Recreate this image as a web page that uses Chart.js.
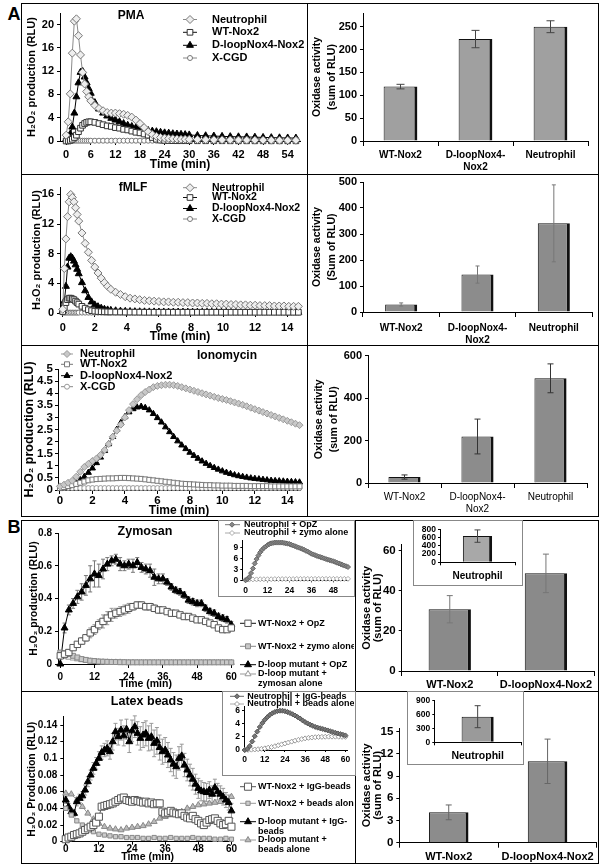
<!DOCTYPE html>
<html><head><meta charset="utf-8">
<script src="https://cdn.jsdelivr.net/npm/chart.js"></script>
<style>
html,body{margin:0;padding:0;background:#fff;}
#root{position:relative;width:602px;height:868px;overflow:hidden;font-family:'Liberation Sans',Arial,'DejaVu Sans',sans-serif;}
.t{position:absolute;font-weight:bold;color:#000;white-space:nowrap;transform:translate(-50%,-50%);line-height:1;z-index:6;}
.bx{position:absolute;border:1px solid #000;box-sizing:border-box;z-index:5;}
.ib{position:absolute;border:1px solid #888;box-sizing:border-box;z-index:5;}
.hl{position:absolute;height:1px;background:#000;z-index:5;}
.vl{position:absolute;width:1px;background:#000;z-index:5;}
canvas{position:absolute;}
</style></head><body><div id="root">
<div class="t" style="left:14px;top:14px;font-size:18px">A</div>
<div class="t" style="left:14px;top:527px;font-size:18px">B</div>
<div class="t" style="left:131px;top:15px;font-size:12px">PMA</div>
<div class="t" style="left:133px;top:187px;font-size:12px">fMLF</div>
<div class="t" style="left:227px;top:355px;font-size:12px">Ionomycin</div>
<div class="t" style="left:145px;top:531px;font-size:12.5px">Zymosan</div>
<div class="t" style="left:147px;top:701px;font-size:12.5px">Latex beads</div>
<div class="bx" style="left:21px;top:3px;width:578px;height:514px"></div>
<div class="hl" style="left:21px;top:174px;width:578px"></div>
<div class="hl" style="left:21px;top:345px;width:578px"></div>
<div class="vl" style="left:307px;top:3px;height:514px"></div>
<div class="bx" style="left:21px;top:520px;width:578px;height:344px"></div>
<div class="vl" style="left:355px;top:520px;height:344px"></div>
<div class="hl" style="left:21px;top:691px;width:578px"></div>
<div class="ib" style="left:218px;top:520px;width:137px;height:77px"></div>
<div class="ib" style="left:413px;top:520px;width:110px;height:66px"></div>
<div class="ib" style="left:222px;top:691px;width:134px;height:85px"></div>
<div class="ib" style="left:407px;top:691px;width:117px;height:74px"></div>
</div>
<script>
// ---------------- DATA ----------------
const LEGEND_A = ['Neutrophil','WT-Nox2','D-loopNox4-Nox2','X-CGD'];

const PMA_T = [0,0.5,1,1.5,2,2.5,3,3.5,4,4.5,5,5.5,6,7,8,9,10,11,12,13,14,15,16,17,18,19,20,21,22,23,24,25,26,27,28,29,30,32,34,36,38,40,42,44,46,48,50,52,54,56];
const PMA_NEUT = [1.0,3.3,8.1,15.1,20.6,21.0,18.1,14.8,11.8,9.8,8.5,7.6,6.9,6.1,5.6,5.2,4.9,4.8,4.8,4.7,4.6,4.4,4.1,3.6,3.0,2.3,1.6,1.1,0.8,0.6,0.5,0.45,0.4,0.35,0.3,0.3,0.28,0.25,0.22,0.2,0.2,0.18,0.17,0.16,0.15,0.15,0.14,0.13,0.12,0.12];
const PMA_WT = [0,0,0.1,0.3,0.6,1.0,1.6,2.2,2.7,3.0,3.2,3.3,3.3,3.2,3.0,2.8,2.6,2.5,2.3,2.2,2.0,1.9,1.7,1.5,1.4,1.2,1.0,0.6,0.3,0.15,0.1,0.08,0.06,0.05,0.05,0.05,0.05,0.04,0.04,0.04,0.04,0.03,0.03,0.03,0.03,0.03,0.03,0.03,0.03,0.03];
const PMA_DLOOP = [0.3,0.6,1.2,2.4,4.8,7.6,10.0,11.8,12.0,11.0,10.0,9.0,8.2,6.6,5.5,4.8,4.3,3.9,3.6,3.3,3.0,2.7,2.5,2.3,2.1,1.95,1.8,1.7,1.6,1.5,1.4,1.35,1.25,1.2,1.15,1.1,1.05,0.95,0.9,0.85,0.8,0.75,0.72,0.7,0.66,0.62,0.58,0.55,0.52,0.5];
const PMA_XCGD = [0.05,0.05,0.05,0.05,0.05,0.05,0.05,0.05,0.05,0.05,0.05,0.05,0.05,0.05,0.05,0.05,0.05,0.05,0.05,0.05,0.05,0.05,0.05,0.05,0.05,0.05,0.05,0.05,0.05,0.05,0.05,0.05,0.05,0.05,0.05,0.05,0.05,0.05,0.05,0.05,0.05,0.05,0.05,0.05,0.05,0.05,0.05,0.05,0.05,0.05];

const FMLF_T = [0,0.1,0.2,0.3,0.4,0.5,0.6,0.7,0.8,0.9,1.0,1.2,1.4,1.6,1.8,2.0,2.2,2.4,2.6,2.8,3.0,3.3,3.6,3.9,4.2,4.5,4.8,5.1,5.4,5.7,6.0,6.3,6.6,6.9,7.2,7.5,7.8,8.1,8.4,8.7,9.0,9.3,9.6,9.9,10.2,10.5,10.8,11.1,11.4,11.7,12.0,12.3,12.6,12.9,13.2,13.5,13.8,14.1,14.4,14.7];
const FMLF_NEUT = [0.5,6,10,13,15,16,15.6,15,14.2,13.3,12.4,10.8,9.4,8.2,7.1,6.2,5.4,4.7,4.1,3.6,3.2,2.8,2.5,2.2,2.0,1.9,1.8,1.7,1.65,1.6,1.55,1.5,1.5,1.45,1.45,1.4,1.4,1.35,1.35,1.3,1.3,1.25,1.25,1.2,1.2,1.15,1.15,1.1,1.1,1.05,1.05,1.0,1.0,1.0,0.95,0.95,0.95,0.9,0.9,0.9];
const FMLF_WT = [0.2,0.8,1.4,1.8,2.0,2.0,1.9,1.8,1.6,1.4,1.2,0.9,0.65,0.45,0.32,0.25,0.2,0.18,0.16,0.15,0.14,0.13,0.13,0.12,0.12,0.11,0.11,0.1,0.1,0.1,0.1,0.1,0.1,0.1,0.1,0.1,0.1,0.1,0.1,0.1,0.1,0.1,0.1,0.1,0.1,0.1,0.1,0.1,0.1,0.1,0.1,0.1,0.1,0.1,0.1,0.1,0.1,0.1,0.1,0.1];
const FMLF_DLOOP = [0.3,1.6,3.6,6.2,7.4,7.6,7.4,7.0,6.5,5.9,5.3,4.1,3.0,2.1,1.5,1.1,0.85,0.65,0.5,0.42,0.36,0.3,0.25,0.22,0.2,0.18,0.17,0.16,0.15,0.15,0.14,0.14,0.13,0.13,0.13,0.12,0.12,0.12,0.12,0.11,0.11,0.11,0.11,0.11,0.1,0.1,0.1,0.1,0.1,0.1,0.1,0.1,0.1,0.1,0.1,0.1,0.1,0.1,0.1,0.1];
const FMLF_XCGD = [0.05,0.05,0.05,0.05,0.05,0.05,0.05,0.05,0.05,0.05,0.05,0.05,0.05,0.05,0.05,0.05,0.05,0.05,0.05,0.05,0.05,0.05,0.05,0.05,0.05,0.05,0.05,0.05,0.05,0.05,0.05,0.05,0.05,0.05,0.05,0.05,0.05,0.05,0.05,0.05,0.05,0.05,0.05,0.05,0.05,0.05,0.05,0.05,0.05,0.05,0.05,0.05,0.05,0.05,0.05,0.05,0.05,0.05,0.05,0.05];

const IONO_T = [0,0.25,0.5,0.75,1,1.25,1.5,1.75,2,2.25,2.5,2.75,3,3.25,3.5,3.75,4,4.25,4.5,4.75,5,5.25,5.5,5.75,6,6.25,6.5,6.75,7,7.25,7.5,7.75,8,8.25,8.5,8.75,9,9.25,9.5,9.75,10,10.25,10.5,10.75,11,11.25,11.5,11.75,12,12.25,12.5,12.75,13,13.25,13.5,13.75,14,14.25,14.5,14.75];
const IONO_NEUT = [0.15,0.22,0.3,0.38,0.55,0.75,0.95,1.08,1.2,1.3,1.45,1.65,1.9,2.2,2.45,2.7,3.0,3.3,3.55,3.75,3.92,4.05,4.15,4.25,4.3,4.33,4.35,4.35,4.33,4.3,4.25,4.2,4.15,4.1,4.05,4.0,3.95,3.9,3.85,3.8,3.76,3.72,3.67,3.62,3.57,3.52,3.46,3.4,3.34,3.28,3.22,3.16,3.1,3.04,2.98,2.92,2.86,2.8,2.74,2.68];
const IONO_WT = [0.08,0.12,0.16,0.2,0.25,0.3,0.35,0.4,0.43,0.45,0.46,0.47,0.48,0.48,0.49,0.5,0.5,0.49,0.48,0.47,0.46,0.44,0.42,0.4,0.38,0.36,0.34,0.32,0.3,0.28,0.26,0.25,0.24,0.23,0.22,0.21,0.2,0.2,0.19,0.19,0.18,0.18,0.18,0.17,0.17,0.17,0.17,0.16,0.16,0.16,0.16,0.16,0.15,0.15,0.15,0.15,0.15,0.15,0.15,0.15];
const IONO_DLOOP = [0.05,0.1,0.15,0.22,0.3,0.42,0.55,0.72,0.9,1.12,1.35,1.62,1.9,2.2,2.5,2.78,3.02,3.22,3.35,3.42,3.45,3.4,3.3,3.15,2.98,2.8,2.6,2.4,2.2,2.02,1.85,1.7,1.55,1.42,1.3,1.19,1.09,1.0,0.92,0.85,0.78,0.72,0.67,0.62,0.58,0.55,0.52,0.49,0.47,0.45,0.43,0.41,0.39,0.38,0.37,0.36,0.35,0.34,0.33,0.32];
const IONO_XCGD = [0.08,0.08,0.08,0.08,0.08,0.08,0.08,0.08,0.08,0.08,0.08,0.08,0.08,0.08,0.08,0.08,0.08,0.08,0.08,0.08,0.08,0.08,0.08,0.08,0.08,0.08,0.08,0.08,0.08,0.08,0.08,0.08,0.08,0.08,0.08,0.08,0.08,0.08,0.08,0.08,0.08,0.08,0.08,0.08,0.08,0.08,0.08,0.08,0.08,0.08,0.08,0.08,0.08,0.08,0.08,0.08,0.08,0.08,0.08,0.08];

const BAR_CATS_A = ['WT-Nox2', ['D-loopNox4-','Nox2'], 'Neutrophil'];
const PMA_SUM = [119, 223, 250];
const PMA_SUM_ERR = [5, 19, 13];
const FMLF_SUM = [29, 144, 341];
const FMLF_SUM_ERR = [6, 33, 148];
const IONO_SUM = [28, 219, 493];
const IONO_SUM_ERR = [10, 82, 68];

const ZY_LEGEND = ['WT-Nox2 + OpZ','WT-Nox2 + zymo alone','D-loop mutant + OpZ','D-loop mutant +\nzymosan alone'];
const ZY_T = [0,1.5,3,4.5,6,7.5,9,10.5,12,13.5,15,16.5,18,19.5,21,22.5,24,25.5,27,28.5,30,31.5,33,34.5,36,37.5,39,40.5,42,43.5,45,46.5,48,49.5,51,52.5,54,55.5,57,58.5,60];
const ZY_WT_OPZ = [0.05,0.06,0.07,0.1,0.12,0.14,0.16,0.19,0.21,0.24,0.26,0.28,0.3,0.31,0.32,0.33,0.34,0.35,0.36,0.36,0.35,0.35,0.34,0.33,0.33,0.32,0.31,0.31,0.3,0.29,0.29,0.28,0.27,0.27,0.26,0.25,0.24,0.22,0.21,0.21,0.22];
const ZY_WT_OPZ_ERR = [0,0,0.01,0.01,0.01,0.02,0.02,0.03,0.03,0.03,0.04,0.04,0.04,0.03,0.03,0.03,0.03,0.02,0.02,0.02,0.02,0.02,0.02,0.02,0.01,0.01,0.01,0.01,0.01,0.01,0.01,0.01,0.01,0.01,0.01,0.01,0.01,0.01,0.01,0.01,0.01];
const ZY_WT_ZYMO = [0.07,0.065,0.06,0.05,0.04,0.03,0.025,0.02,0.018,0.015,0.014,0.013,0.012,0.012,0.011,0.011,0.01,0.01,0.01,0.01,0.01,0.01,0.01,0.01,0.01,0.01,0.01,0.01,0.01,0.01,0.01,0.01,0.01,0.01,0.01,0.01,0.01,0.01,0.01,0.01,0.01];
const ZY_DL_OPZ = [0.0,0.22,0.33,0.37,0.41,0.44,0.48,0.52,0.55,0.54,0.58,0.61,0.63,0.64,0.61,0.6,0.61,0.6,0.62,0.59,0.58,0.57,0.53,0.52,0.52,0.5,0.47,0.45,0.44,0.42,0.39,0.38,0.37,0.37,0.34,0.32,0.31,0.29,0.28,0.27,0.24];
const ZY_DL_OPZ_ERR = [0,0.03,0.03,0.03,0.04,0.05,0.06,0.08,0.08,0.07,0.06,0.04,0.03,0.03,0.04,0.03,0.03,0.04,0.03,0.03,0.03,0.04,0.05,0.03,0.03,0.02,0.02,0.02,0.02,0.02,0.02,0.02,0.02,0.02,0.02,0.02,0.02,0.02,0.02,0.02,0.02];
const ZY_DL_ZYMO = [0.05,0.045,0.04,0.035,0.03,0.025,0.02,0.017,0.015,0.013,0.012,0.011,0.01,0.01,0.01,0.009,0.009,0.009,0.008,0.008,0.008,0.008,0.008,0.008,0.008,0.008,0.008,0.008,0.008,0.008,0.008,0.008,0.008,0.008,0.008,0.008,0.008,0.008,0.008,0.008,0.008];

const ZYI_LEGEND = ['Neutrophil + OpZ','Neutrophil + zymo alone'];
const ZYI_T = [0,1,2,3,4,5,6,7,8,9,10,11,12,13,14,15,16,17,18,19,20,21,22,23,24,25,26,27,28,29,30,31,32,33,34,35,36,37,38,39,40,41,42,43,44,45,46,47,48,49,50,51,52,53,54,55,56];
const ZYI_OPZ = [0,0.3,0.9,2.0,3.3,4.7,5.9,6.9,7.8,8.5,9.0,9.4,9.8,10.1,10.3,10.4,10.5,10.5,10.5,10.5,10.5,10.4,10.3,10.2,10.1,9.9,9.7,9.5,9.3,9.1,8.9,8.7,8.5,8.2,8.0,7.7,7.4,7.2,7.0,6.8,6.6,6.45,6.3,6.1,5.9,5.75,5.6,5.45,5.3,5.1,4.9,4.7,4.5,4.3,4.1,3.9,3.7];
const ZYI_T2 = [0,2,4,6,8,10,12,14,16,18,20,22,24,26,28,30,32,34,36,38,40,42,44,46,48,50,52,54,56];
const ZYI_ALONE = [0.2,0.2,0.25,0.25,0.3,0.3,0.3,0.3,0.35,0.35,0.35,0.35,0.35,0.35,0.4,0.4,0.4,0.4,0.4,0.4,0.4,0.4,0.4,0.4,0.4,0.4,0.4,0.4,0.4];

const BAR_CATS_B = ['WT-Nox2','D-loopNox4-Nox2'];
const ZY_SUM = [30.8, 48.7];
const ZY_SUM_ERR = [6.8, 9.6];
const ZY_NEUT_CAT = ['Neutrophil'];
const ZY_NEUT_SUM = [635];
const ZY_NEUT_SUM_ERR = [150];

const LT_LEGEND = ['WT-Nox2 + IgG-beads','WT-Nox2 + beads alone','D-loop mutant + IgG-\nbeads','D-loop mutant +\nbeads alone'];
const LT_T = [0,1,2,3,4,5,6,7,8,9,10,11,12,13,14,15,16,17,18,19,20,21,22,23,24,25,26,27,28,29,30,31,32,33,34,35,36,37,38,39,40,41,42,43,44,45,46,47,48,49,50,51,52,53,54,55,56,57,58,59,60];
const LT_WT_IGG = [0.003,0.005,0.006,0.008,0.009,0.01,0.012,0.014,0.016,0.018,0.02,0.023,0.03,0.042,0.043,0.044,0.045,0.046,0.048,0.05,0.052,0.053,0.05,0.049,0.048,0.05,0.049,0.048,0.047,0.048,0.046,0.047,0.045,0.046,0.046,0.036,0.034,0.035,0.037,0.035,0.034,0.033,0.034,0.031,0.029,0.028,0.031,0.027,0.025,0.022,0.02,0.023,0.026,0.027,0.028,0.025,0.022,0.02,0.021,0.025,0.018];
const LT_DL_IGG = [0.05,0.042,0.036,0.034,0.048,0.052,0.055,0.062,0.072,0.08,0.088,0.094,0.1,0.107,0.11,0.112,0.108,0.12,0.132,0.126,0.134,0.127,0.135,0.12,0.133,0.138,0.13,0.124,0.128,0.13,0.124,0.126,0.118,0.121,0.113,0.108,0.11,0.104,0.098,0.093,0.09,0.1,0.103,0.092,0.086,0.08,0.075,0.069,0.064,0.061,0.06,0.059,0.062,0.057,0.065,0.06,0.057,0.054,0.05,0.047,0.037];
const LT_DL_IGG_ERR = [0.004,0.004,0.004,0.004,0.005,0.005,0.005,0.006,0.006,0.006,0.007,0.007,0.008,0.008,0.008,0.009,0.009,0.01,0.01,0.01,0.012,0.012,0.012,0.013,0.013,0.013,0.014,0.014,0.015,0.015,0.015,0.016,0.016,0.016,0.015,0.015,0.015,0.015,0.014,0.014,0.014,0.014,0.014,0.014,0.013,0.013,0.013,0.012,0.012,0.012,0.011,0.011,0.01,0.01,0.01,0.01,0.01,0.01,0.009,0.009,0.009];
const LT_T2 = [0,2,4,6,8,10,12,14,16,18,20,22,24,26,28,30,32,34,36,38,40,42,44,46,48,50,52,54,56,58,60];
const LT_WT_BEADS = [0.04,0.032,0.025,0.02,0.016,0.012,0.009,0.008,0.007,0.006,0.006,0.005,0.005,0.005,0.004,0.004,0.005,0.004,0.004,0.005,0.004,0.004,0.004,0.005,0.004,0.004,0.004,0.003,0.003,0.004,0.003];
const LT_DL_BEADS = [0.058,0.057,0.05,0.042,0.034,0.027,0.022,0.018,0.016,0.015,0.014,0.016,0.017,0.018,0.019,0.021,0.024,0.028,0.03,0.032,0.034,0.036,0.04,0.042,0.044,0.045,0.046,0.047,0.048,0.05,0.054];

const LTI_LEGEND = ['Neutrophil + IgG-beads','Neutrophil + beads alone'];
const LTI_T = [0,1.5,3,4.5,6,7.5,9,10.5,12,13.5,15,16.5,18,19.5,21,22.5,24,25.5,27,28.5,30,31.5,33,34.5,36,37.5,39,40.5,42,43.5,45,46.5,48,49.5,51,52.5,54,55.5,57,58.5,60];
const LTI_IGG = [0,0.15,0.6,1.3,2.1,2.8,3.5,4.1,4.6,5.0,5.35,5.6,5.8,5.92,5.98,5.98,5.9,5.78,5.62,5.45,5.25,5.02,4.8,4.5,4.25,4.05,3.85,3.68,3.52,3.4,3.3,3.2,3.1,2.98,2.86,2.74,2.63,2.52,2.42,2.32,2.22];
const LTI_T2 = [0,2,4,6,8,10,12,14,16,18,20,22,24,26,28,30,32,34,36,38,40,42,44,46,48,50,52,54,56,58,60];
const LTI_ALONE = [0,0.02,0.05,0.08,0.12,0.18,0.25,0.35,0.45,0.58,0.72,0.86,1.0,1.14,1.28,1.42,1.55,1.67,1.77,1.85,1.9,1.95,1.98,2.0,2.02,2.03,2.03,2.03,2.02,2.0,2.0];

const LT_SUM = [4.1, 11.0];
const LT_SUM_ERR = [1.0, 3.0];
const LT_NEUT_CAT = ['Neutrophil'];
const LT_NEUT_SUM = [554];
const LT_NEUT_SUM_ERR = [238];

// ---------------- HELPERS ----------------
const FONT = "'Liberation Sans', Arial, 'DejaVu Sans', sans-serif";
Chart.defaults.font.family = FONT;
Chart.defaults.color = '#000';
const F = (size, weight, lh) => ({family: FONT, size, weight: weight || 'bold', lineHeight: lh || 1.2});
const fmt = v => String(Math.round(v * 1000) / 1000);
const root = document.getElementById('root');

function mkCanvas(c, bg) {
  const cv = document.createElement('canvas');
  const w = c[2] - c[0], h = c[3] - c[1];
  cv.width = w; cv.height = h;
  cv.style.left = c[0] + 'px'; cv.style.top = c[1] + 'px';
  cv.style.width = w + 'px'; cv.style.height = h + 'px';
  if (bg) { cv.style.background = bg; cv.style.zIndex = 3; } else { cv.style.zIndex = 1; }
  root.appendChild(cv);
  return cv;
}
const pts = (T, V) => T.map((t, i) => ({x: t, y: V[i]}));

function linScale(o, axis) {
  const s = {
    type: 'linear', position: axis === 'x' ? 'bottom' : 'left', min: o.min, max: o.max,
    ticks: {stepSize: o.step, includeBounds: false, font: F(o.size, o.weight, o.lh), color: '#000', padding: o.pad, maxRotation: 0, autoSkip: false, callback: fmt},
    grid: {drawOnChartArea: false, tickLength: o.tl, color: '#000', lineWidth: 1},
    border: {color: '#000', width: 1},
    title: o.title ? {display: true, text: o.title, color: '#000', font: F(o.tsize, 'bold', o.tlh), padding: axis === 'x' ? {top: 0, bottom: o.tpad} : {top: o.tpad, bottom: 0}} : {display: false}
  };
  if (axis === 'x') s.afterFit = sc => { sc.height = o.h; }; else s.afterFit = sc => { sc.width = o.w; };
  return s;
}
function catScale(o) {
  return {
    type: 'category', offset: true, afterFit: sc => { sc.height = o.h; },
    ticks: {font: F(o.size, o.weight, o.lh), color: '#000', padding: o.pad, maxRotation: 0, autoSkip: false},
    grid: {offset: true, drawOnChartArea: false, tickLength: o.tl, color: '#000', lineWidth: 1},
    border: {color: '#000', width: 1}
  };
}

function drawMarker(ctx, style, x, y, r, fill, stroke, bw) {
  ctx.save();
  ctx.fillStyle = fill; ctx.strokeStyle = stroke; ctx.lineWidth = bw;
  ctx.beginPath();
  if (style === 'circle') ctx.arc(x, y, r, 0, Math.PI * 2);
  else if (style === 'rect') { const s = r * Math.SQRT1_2; ctx.rect(x - s, y - s, 2 * s, 2 * s); }
  else if (style === 'rectRot') { ctx.moveTo(x - r, y); ctx.lineTo(x, y - r); ctx.lineTo(x + r, y); ctx.lineTo(x, y + r); ctx.closePath(); }
  else if (style === 'triangle') {
    for (let k = 0; k < 3; k++) { const a = k * 2 * Math.PI / 3; const px = x + Math.sin(a) * r, py = y - Math.cos(a) * r; if (k) ctx.lineTo(px, py); else ctx.moveTo(px, py); }
    ctx.closePath();
  }
  ctx.fill(); if (bw > 0) ctx.stroke();
  ctx.restore();
}

const legendPlugin = {
  id: 'fixedLegend',
  afterDraw(chart, args, o) {
    if (!o || !o.rows) return;
    const ctx = chart.ctx;
    ctx.save();
    chart.data.datasets.forEach((ds, i) => {
      const y = o.rows[i] - o.oy;
      ctx.strokeStyle = ds.borderColor; ctx.lineWidth = 1;
      ctx.beginPath(); ctx.moveTo(o.lx0 - o.ox, y); ctx.lineTo(o.lx1 - o.ox, y); ctx.stroke();
      drawMarker(ctx, ds.pointStyle, o.mx - o.ox, y, ds.pointRadius, ds.pointBackgroundColor, ds.pointBorderColor, ds.pointBorderWidth);
      ctx.fillStyle = '#000'; ctx.font = o.font; ctx.textBaseline = 'middle'; ctx.textAlign = 'left';
      String(ds.label).split('\n').forEach((ln, k) => ctx.fillText(ln, o.tx - o.ox, y + k * o.gap));
    });
    ctx.restore();
  }
};

function drawErr(chart, behind) {
  const ctx = chart.ctx;
  chart.data.datasets.forEach((ds, i) => {
    if (!ds.errorBars || !!ds.errorBehind !== behind) return;
    const meta = chart.getDatasetMeta(i);
    const ys = chart.scales[meta.yAxisID];
    ctx.save();
    ctx.strokeStyle = ds.errorColor || '#444'; ctx.lineWidth = ds.errorWidth || 1;
    meta.data.forEach((el, j) => {
      const e = ds.errorBars[j]; if (!e) return;
      const d = ds.data[j]; const v = typeof d === 'object' ? d.y : d;
      const x = el.x, y1 = ys.getPixelForValue(v + e), y0 = ys.getPixelForValue(v - e), cw = ds.errorCap || 3;
      ctx.beginPath();
      ctx.moveTo(x, y0); ctx.lineTo(x, y1);
      ctx.moveTo(x - cw, y1); ctx.lineTo(x + cw, y1);
      ctx.moveTo(x - cw, y0); ctx.lineTo(x + cw, y0);
      ctx.stroke();
    });
    ctx.restore();
  });
}
const errPlugin = {
  id: 'errbars',
  beforeDatasetsDraw(chart) { drawErr(chart, true); },
  afterDatasetsDraw(chart) { drawErr(chart, false); }
};

function mkLine(c, a, xs, ys, datasets, legend, bg) {
  const cv = mkCanvas(c, bg);
  xs.h = c[3] - a[3]; ys.w = a[0] - c[0];
  const lg = legend ? Object.assign({ox: c[0], oy: c[1]}, legend) : {};
  return new Chart(cv, {
    type: 'scatter',
    data: {datasets},
    options: {
      responsive: false, animation: false, events: [],
      layout: {padding: {left: 0, top: a[1] - c[1], right: c[2] - a[2], bottom: 0}},
      scales: {x: linScale(xs, 'x'), y: linScale(ys, 'y')},
      plugins: {legend: {display: false}, tooltip: {enabled: false}, fixedLegend: lg}
    },
    plugins: [errPlugin, legendPlugin]
  });
}
function mkBar(c, a, labels, ds, xs, ys, bg) {
  const cv = mkCanvas(c, bg);
  xs.h = c[3] - a[3]; ys.w = a[0] - c[0];
  return new Chart(cv, {
    type: 'bar',
    data: {labels, datasets: [ds]},
    options: {
      responsive: false, animation: false, events: [],
      layout: {padding: {left: 0, top: a[1] - c[1], right: c[2] - a[2], bottom: 0}},
      scales: {x: catScale(xs), y: linScale(ys, 'y')},
      plugins: {legend: {display: false}, tooltip: {enabled: false}}
    },
    plugins: [errPlugin]
  });
}
function ser(label, T, V, st) {
  return Object.assign({label, data: pts(T, V), showLine: true, borderWidth: 1, clip: false, pointBorderWidth: 1}, st);
}
function barDs(V, E, color, bp, cap, ecol) {
  return {data: V, backgroundColor: color, borderColor: '#111', borderWidth: {left: 1, top: 1, right: 3, bottom: 0},
    barPercentage: bp, categoryPercentage: 1, errorBars: E, errorColor: ecol || '#444', errorCap: cap};
}

// styles
const S_NEUT = {borderColor: '#8a8a8a', pointStyle: 'rectRot', pointRadius: 4, pointBackgroundColor: '#eeeeee', pointBorderColor: '#777'};
const S_WT = {borderColor: '#111', pointStyle: 'rect', pointRadius: 4, pointBackgroundColor: '#fff', pointBorderColor: '#333'};
const S_DL = {borderColor: '#000', pointStyle: 'triangle', pointRadius: 4, pointBackgroundColor: '#000', pointBorderColor: '#000'};
const S_XC = {borderColor: '#888', pointStyle: 'circle', pointRadius: 2.5, pointBackgroundColor: '#fff', pointBorderColor: '#777'};

// ---------------- PANEL A ----------------
mkLine([22, 2, 306, 173], [60, 13, 300, 141],
  {min: -1.5, max: 57, step: 6, size: 11, pad: 3, tl: 4, title: 'Time (min)', tsize: 12, tpad: 1},
  {min: 0, max: 22, step: 4, size: 11, pad: 3, tl: 3, title: 'H₂O₂ production (RLU)', tsize: 11, tpad: 3},
  [ser(LEGEND_A[0], PMA_T, PMA_NEUT, S_NEUT), ser(LEGEND_A[1], PMA_T, PMA_WT, S_WT),
   ser(LEGEND_A[2], PMA_T, PMA_DLOOP, S_DL), ser(LEGEND_A[3], PMA_T, PMA_XCGD, S_XC)],
  {font: 'bold 11px ' + FONT, mx: 190, lx0: 183, lx1: 197, tx: 212, rows: [19.5, 32.3, 45.3, 58], gap: 10});

mkBar([308, 0, 597, 173], [363, 13, 588, 141], BAR_CATS_A,
  barDs(PMA_SUM, PMA_SUM_ERR, '#a0a0a0', 0.45, 4, '#444'),
  {size: 10, lh: 1.2, pad: 3, tl: 5},
  {min: 0, max: 280, step: 50, size: 11, pad: 3, tl: 3, title: ['Oxidase activity', '(sum of RLU)'], tsize: 10.5, tlh: 1.43, tpad: 1.5});

mkLine([22, 175, 306, 344], [60, 187, 300, 313],
  {min: -0.17, max: 14.8, step: 2, size: 11, pad: 4.4, tl: 4, title: 'Time (min)', tsize: 12, tpad: 0},
  {min: 0, max: 17, step: 4, size: 11, pad: 3, tl: 3, title: 'H₂O₂ production (RLU)', tsize: 11, tpad: 8},
  [ser(LEGEND_A[0], FMLF_T, FMLF_NEUT, S_NEUT), ser(LEGEND_A[1], FMLF_T, FMLF_WT, S_WT),
   ser(LEGEND_A[2], FMLF_T, FMLF_DLOOP, S_DL), ser(LEGEND_A[3], FMLF_T, FMLF_XCGD, S_XC)],
  {font: 'bold 10.5px ' + FONT, mx: 190, lx0: 183, lx1: 197, tx: 212, rows: [187.7, 197.5, 208.5, 219], gap: 10});

mkBar([308, 170, 597, 344], [363, 182, 592, 312], BAR_CATS_A,
  barDs(FMLF_SUM, FMLF_SUM_ERR, '#8c8c8c', 0.42, 2, '#777'),
  {size: 10, lh: 1.2, pad: 5, tl: 5},
  {min: 0, max: 500, step: 100, size: 11, pad: 3, tl: 3, title: ['Oxidase activity', '(Sum of RLU)'], tsize: 10.5, tlh: 1.43, tpad: 1.5});

mkLine([22, 346, 306, 518], [58, 369, 300, 490],
  {min: -0.12, max: 14.78, step: 2, size: 11.5, pad: 0, tl: 4, title: 'Time (min)', tsize: 12, tpad: 0},
  {min: 0, max: 5, step: 0.5, size: 11.5, pad: 2, tl: 3, title: 'H₂O₂ production (RLU)', tsize: 12.5, tpad: 0},
  [ser(LEGEND_A[0], IONO_T, IONO_NEUT, Object.assign({}, S_NEUT, {pointBackgroundColor: '#c8c8c8', pointBorderColor: '#999', borderColor: '#999', pointRadius: 3.5})),
   ser(LEGEND_A[1], IONO_T, IONO_WT, Object.assign({}, S_WT, {pointBorderColor: '#777', borderColor: '#777', pointRadius: 3.5})),
   ser(LEGEND_A[2], IONO_T, IONO_DLOOP, Object.assign({}, S_DL, {pointRadius: 3.5})),
   ser(LEGEND_A[3], IONO_T, IONO_XCGD, Object.assign({}, S_XC, {pointBorderColor: '#999'}))],
  {font: 'bold 11px ' + FONT, mx: 67, lx0: 61, lx1: 73, tx: 80, rows: [354, 364.3, 375.7, 386.7], gap: 10});

mkBar([308, 346, 597, 515], [368, 354, 587, 483], BAR_CATS_A,
  barDs(IONO_SUM, IONO_SUM_ERR, '#8c8c8c', 0.44, 3, '#333'),
  {size: 10, weight: 'normal', lh: 1.2, pad: 3, tl: 5},
  {min: 0, max: 600, step: 200, size: 11, pad: 3, tl: 3, title: ['Oxidase activity', '(sum of RLU)'], tsize: 10.5, tlh: 1.43, tpad: 3.5});

// ---------------- PANEL B ----------------
mkLine([22, 521, 354, 690], [58, 533, 233, 664],
  {min: -0.8, max: 60.6, step: 12, size: 10, pad: 3, tl: 4, title: 'Time (min)', tsize: 10.5, tpad: 0},
  {min: 0, max: 0.8, step: 0.2, size: 10, pad: 3, tl: 3, title: 'H₂O₂ production (RLU)', tsize: 10.5, tpad: 5.5},
  [ser(ZY_LEGEND[0], ZY_T, ZY_WT_OPZ, {borderColor: '#111', pointStyle: 'rect', pointRadius: 4.5, pointBackgroundColor: '#fff', pointBorderColor: '#555', errorBars: ZY_WT_OPZ_ERR, errorBehind: true, errorColor: '#999', errorCap: 2}),
   ser(ZY_LEGEND[1], ZY_T, ZY_WT_ZYMO, {borderColor: '#888', pointStyle: 'rect', pointRadius: 3.5, pointBackgroundColor: '#c8c8c8', pointBorderColor: '#888'}),
   ser(ZY_LEGEND[2], ZY_T, ZY_DL_OPZ, {borderColor: '#000', pointStyle: 'triangle', pointRadius: 4, pointBackgroundColor: '#000', pointBorderColor: '#000', errorBars: ZY_DL_OPZ_ERR, errorBehind: true, errorColor: '#777', errorCap: 2}),
   ser(ZY_LEGEND[3], ZY_T, ZY_DL_ZYMO, {borderColor: '#999', pointStyle: 'triangle', pointRadius: 3.5, pointBackgroundColor: '#fff', pointBorderColor: '#999'})],
  {font: 'bold 9px ' + FONT, mx: 248, lx0: 240, lx1: 256, tx: 258, rows: [623.3, 646.3, 664.7, 674], gap: 9.3});

mkLine([219, 521, 353, 595], [242.3, 540.8, 352, 580.3],
  {min: -1.8, max: 56, step: 12, size: 8.5, lh: 1, pad: 4, tl: 2},
  {min: 0, max: 11, step: 3, size: 8.5, lh: 1, pad: 2, tl: 2},
  [ser(ZYI_LEGEND[0], ZYI_T, ZYI_OPZ, {borderColor: '#777', pointStyle: 'rectRot', pointRadius: 2.5, pointBackgroundColor: '#888', pointBorderColor: '#666'}),
   ser(ZYI_LEGEND[1], ZYI_T2, ZYI_ALONE, {borderColor: '#aaa', pointStyle: 'rectRot', pointRadius: 2.5, pointBackgroundColor: '#fff', pointBorderColor: '#aaa'})],
  {font: 'bold 9px ' + FONT, mx: 232, lx0: 225, lx1: 240, tx: 244, rows: [524.7, 533], gap: 9}, '#fff');

mkBar([356, 521, 597, 690], [401.7, 544.7, 594, 671], BAR_CATS_B,
  barDs(ZY_SUM, ZY_SUM_ERR, '#8a8a8a', 0.44, 3, '#777'),
  {size: 11, lh: 1.2, pad: 2.4, tl: 5},
  {min: 0, max: 63, step: 20, size: 11.5, pad: 3, tl: 3, title: ['Oxidase activity', '(sum of RLU)'], tsize: 11, tlh: 0.95, tpad: 5.8});

mkBar([414, 521, 521, 584], [440, 529.3, 515, 562.3], ZY_NEUT_CAT,
  barDs(ZY_NEUT_SUM, ZY_NEUT_SUM_ERR, '#a8a8a8', 0.39, 3, '#444'),
  {size: 10, lh: 1.2, pad: 5.4, tl: 3},
  {min: 0, max: 800, step: 200, size: 8.5, lh: 1, pad: 2, tl: 2}, '#fff');

mkLine([22, 692, 354, 862], [63.3, 716.7, 232, 841.7],
  {min: -0.9, max: 60.2, step: 12, size: 10, lh: 1, pad: 0, tl: 3, title: 'Time (min)', tsize: 10.5, tlh: 1, tpad: 0},
  {min: 0, max: 0.15, step: 0.02, size: 10, pad: 3, tl: 3, title: 'H₂O₂ Production (RLU)', tsize: 10.5, tpad: 3.5},
  [ser(LT_LEGEND[0], LT_T, LT_WT_IGG, {borderColor: '#555', pointStyle: 'rect', pointRadius: 5, pointBackgroundColor: '#fff', pointBorderColor: '#555'}),
   ser(LT_LEGEND[1], LT_T2, LT_WT_BEADS, {borderColor: '#999', pointStyle: 'rect', pointRadius: 3, pointBackgroundColor: '#ccc', pointBorderColor: '#888'}),
   ser(LT_LEGEND[2], LT_T, LT_DL_IGG, {borderColor: '#000', pointStyle: 'triangle', pointRadius: 4, pointBackgroundColor: '#000', pointBorderColor: '#000', errorBars: LT_DL_IGG_ERR, errorBehind: true, errorColor: '#999', errorCap: 2}),
   ser(LT_LEGEND[3], LT_T2, LT_DL_BEADS, {borderColor: '#999', pointStyle: 'triangle', pointRadius: 3.5, pointBackgroundColor: '#bbb', pointBorderColor: '#888'})],
  {font: 'bold 9px ' + FONT, mx: 248, lx0: 240, lx1: 256, tx: 258, rows: [786.7, 803.3, 821.7, 840], gap: 9.5});

mkLine([223, 692, 354, 774], [244, 706, 348, 750],
  {min: -0.41, max: 61, step: 12, size: 8.5, lh: 1, pad: 3.75, tl: 2},
  {min: 0, max: 6.7, step: 2, size: 8.5, lh: 1, pad: 2, tl: 2},
  [ser(LTI_LEGEND[0], LTI_T, LTI_IGG, {borderColor: '#666', pointStyle: 'rectRot', pointRadius: 2.5, pointBackgroundColor: '#777', pointBorderColor: '#555'}),
   ser(LTI_LEGEND[1], LTI_T2, LTI_ALONE, {borderColor: '#aaa', pointStyle: 'rectRot', pointRadius: 2.5, pointBackgroundColor: '#fff', pointBorderColor: '#999'})],
  {font: 'bold 9px ' + FONT, mx: 237, lx0: 230, lx1: 244, tx: 247.3, rows: [696.3, 704], gap: 9}, '#fff');

mkBar([356, 692, 597, 862], [399.3, 728, 597, 842.7], BAR_CATS_B,
  barDs(LT_SUM, LT_SUM_ERR, '#8c8c8c', 0.4, 3, '#666'),
  {size: 11, lh: 1.2, pad: 2.4, tl: 5},
  {min: 0, max: 15.5, step: 3, size: 11.5, pad: 3, tl: 3, title: ['Oxidase activity', '(sum of RLU)'], tsize: 11, tlh: 0.95, tpad: 5.8});

mkBar([408, 692, 522, 763], [434.3, 700.7, 521, 742.3], LT_NEUT_CAT,
  barDs(LT_NEUT_SUM, LT_NEUT_SUM_ERR, '#9a9a9a', 0.37, 3, '#444'),
  {size: 10.5, lh: 1.2, pad: 4.7, tl: 3},
  {min: 0, max: 900, step: 300, size: 8.5, lh: 1, pad: 2, tl: 2}, '#fff');
</script></body></html>
